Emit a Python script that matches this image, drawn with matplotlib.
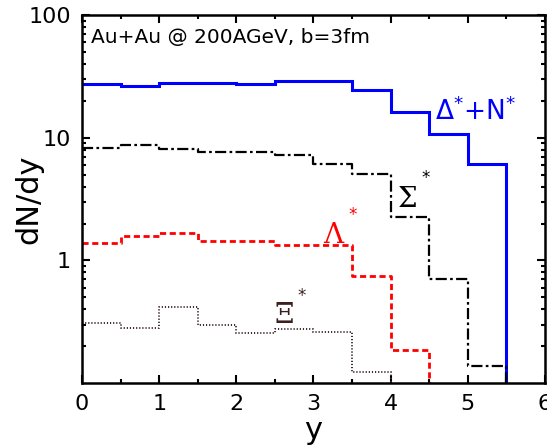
import numpy as np
import matplotlib
matplotlib.use("Agg")
import matplotlib.pyplot as plt
from matplotlib.ticker import LogLocator, NullFormatter, MultipleLocator

# rapidity bins (width 0.5)
edges = [0.0, 0.5, 1.0, 1.5, 2.0, 2.5, 3.0, 3.5, 4.0, 4.5, 5.0, 5.5]
delta_n = [27.3, 26.6, 28.0, 28.0, 27.3, 28.9, 28.9, 24.7, 16.2, 10.8, 6.1]
sigma = [8.2, 8.75, 8.15, 7.66, 7.66, 7.24, 6.15, 5.03, 2.26, 0.71, 0.137]
lam = [1.38, 1.57, 1.68, 1.43, 1.43, 1.33, 1.33, 0.745, 0.187]
xi = [0.31, 0.284, 0.42, 0.296, 0.258, 0.275, 0.26, 0.123]

YMIN = 0.1


def steps(vals):
    # histogram outline, dropping to the bottom after the last bin
    e = np.array(edges[:len(vals) + 1])
    x = np.repeat(e, 2)[1:-1]
    y = np.repeat(vals, 2)
    x = np.append(x, e[-1])
    y = np.append(y, YMIN * 0.5)
    return x, y


fig = plt.figure(figsize=(5.47, 4.45), dpi=100)
ax = fig.add_axes([0.150, 0.139, 0.846, 0.827])

x, y = steps(delta_n)
ax.plot(x, y, color="#0000ff", lw=2.2, solid_joinstyle="miter")
x, y = steps(sigma)
ax.plot(x, y, color="black", lw=1.6, dashes=(5, 1.5, 1.2, 1.5))
x, y = steps(lam)
ax.plot(x, y, color="#ff0000", lw=2.0, dashes=(2.2, 1.3))
x, y = steps(xi)
ax.plot(x, y, color="#3c2a2a", lw=1.4, dashes=(0.6, 1.0))

ax.set_yscale("log")
ax.set_xlim(0, 6)
ax.set_ylim(YMIN, 100)
ax.xaxis.set_major_locator(MultipleLocator(1))
ax.xaxis.set_minor_locator(MultipleLocator(0.5))
ax.yaxis.set_minor_locator(LogLocator(base=10, subs=np.arange(2, 10), numticks=10))
ax.yaxis.set_minor_formatter(NullFormatter())
ax.set_yticks([1, 10, 100])
ax.set_yticklabels(["1", "10", "100"])

ax.tick_params(which="both", direction="in", top=True, right=True, width=1.5)
ax.tick_params(which="major", length=6, labelsize=16, pad=8)
ax.tick_params(which="minor", length=3)
for s in ax.spines.values():
    s.set_linewidth(1.8)

ax.set_xlabel("y", fontsize=22)
ax.xaxis.set_label_coords(0.5, -0.09, transform=ax.transAxes)
ax.xaxis.label.set_va("top")
ax.set_ylabel("dN/dy", fontsize=22)
ax.yaxis.set_label_coords(-0.114, 0.5)
ax.yaxis.label.set_va("center")

ax.text(0.02, 0.965, "Au+Au @ 200AGeV, b=3fm", transform=ax.transAxes,
        fontsize=14.5, va="top", ha="left")

ser = "DejaVu Serif"
ax.text(4.58, 13.9, r"$\Delta^{*}$+N$^{*}$", color="#0000ff", fontsize=19,
        fontfamily="DejaVu Sans")
ax.text(4.1, 2.71, "\u03a3", color="black", fontsize=20, fontfamily=ser)
ax.text(4.4, 4.3, "*", color="black", fontsize=12)
ax.text(3.12, 1.40, "\u039b", color="#ff0000", fontsize=20, fontfamily=ser)
ax.text(3.45, 2.15, "*", color="#ff0000", fontsize=12)
ax.text(2.5, 0.312, "\u039e", color="#3c2020", fontsize=20, fontfamily=ser)
ax.text(2.79, 0.47, "*", color="#3c2020", fontsize=12)

fig.savefig("out.png", dpi=100)
